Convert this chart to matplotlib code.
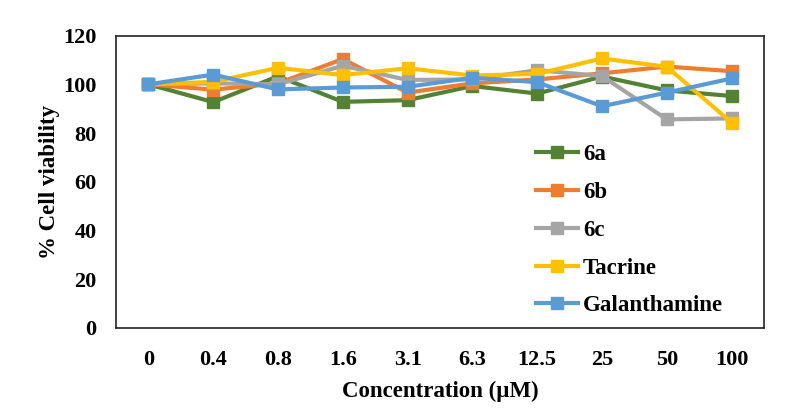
import matplotlib
matplotlib.use("Agg")
import matplotlib.pyplot as plt

categories = ["0", "0.4", "0.8", "1.6", "3.1", "6.3", "12.5", "25", "50", "100"]
s6a = [100, 92.7, 103.3, 92.8, 93.5, 99.3, 96.2, 103.2, 97.5, 95.2]
s6b = [100, 97.8, 100.4, 110.4, 96.6, 100.4, 102.0, 104.5, 107.3, 105.4]
s6c = [100, 100.4, 100.0, 107.6, 101.8, 102.0, 105.8, 103.4, 85.6, 86.0]
tacrine = [100, 101.0, 106.8, 103.8, 106.6, 103.6, 104.3, 110.6, 107.2, 84.3]
galanthamine = [100, 104.0, 97.9, 98.7, 99.0, 102.7, 100.9, 91.0, 96.6, 102.4]

series = [("6a", s6a, "#548235"), ("6b", s6b, "#ED7D31"), ("6c", s6c, "#A5A5A5"),
          ("Tacrine", tacrine, "#FFC000"), ("Galanthamine", galanthamine, "#5B9BD5")]

plt.rcParams['font.family'] = ['Liberation Serif', 'DejaVu Serif']
plt.rcParams['font.weight'] = 'bold'

fig = plt.figure(figsize=(7.86, 4.12), dpi=100)
ax = fig.add_axes([0.1476, 0.204, 0.8244, 0.7096])

x = list(range(len(categories)))
for name, vals, col in series:
    ax.plot(x, vals, color=col, lw=3.0, marker='s', ms=8, label=name)

ax.set_xlim(-0.5, len(categories) - 0.5)
ax.set_ylim(0, 120)
ax.set_yticks(range(0, 121, 20))
ax.set_xticks(x)
ax.set_xticklabels(categories)
ax.tick_params(axis='both', length=0, labelsize=16)
ax.tick_params(axis='x', pad=16)
ax.tick_params(axis='y', pad=14)
for lab in ax.get_xticklabels() + ax.get_yticklabels():
    lab.set_fontweight('bold')
for sp in ax.spines.values():
    sp.set_linewidth(1.2)
    sp.set_color('#222222')

ax.set_xlabel("Concentration (µM)", fontsize=16.5, fontweight='bold', labelpad=8)
ax.set_ylabel("% Cell viability", fontsize=16.5, fontweight='bold', labelpad=2)

leg = ax.legend(loc='upper left', bbox_to_anchor=(0.670, 0.672), bbox_transform=fig.transFigure,
                frameon=False, fontsize=16.5, labelspacing=0.73, handlelength=1.85,
                handletextpad=0.2, borderaxespad=0)
for t in leg.get_texts():
    t.set_fontweight('bold')

fig.savefig("out.png", dpi=100)
